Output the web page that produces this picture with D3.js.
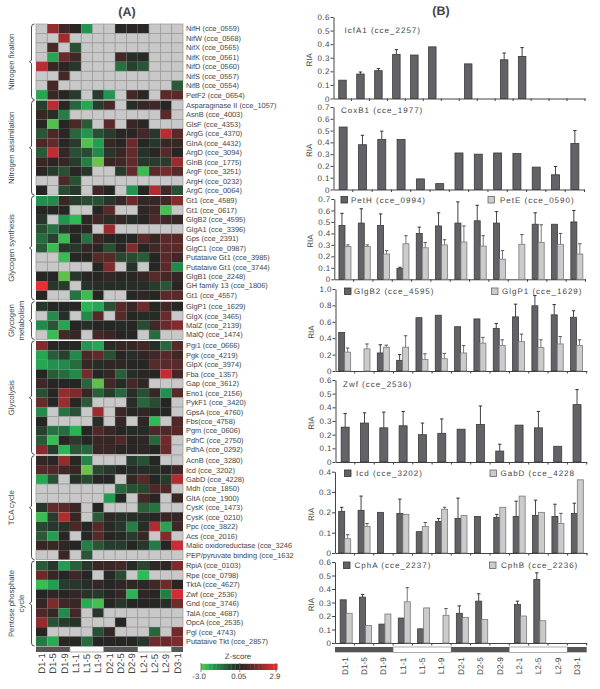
<!DOCTYPE html>
<html><head><meta charset="utf-8">
<script src="https://cdnjs.cloudflare.com/ajax/libs/d3/7.8.5/d3.min.js"></script>
<style>html,body{margin:0;padding:0;background:#fff}svg{display:block;opacity:.999}text{font-family:"Liberation Sans",Arial,sans-serif;fill:#444;text-rendering:geometricPrecision}</style>
</head><body><svg id="c" width="600" height="689"></svg>
<script>
const _ = null;
const categories = ["D1-1","D1-5","D1-9","L1-1","L1-5","L1-9","D2-1","D2-5","D2-9","L2-1","L2-5","L2-9","D3-1"];
const phases = ["D","L","D","L","D"];
const phaseSizes = [3,3,3,3,1];

const groupNames = [["Nitrogen fixation"],["Nitrogen assimilation"],["Glycogen synthesis"],["Glycogen","metabolism"],["Glycolysis"],["TCA cycle"],["Pentose phosphate","cycle"]];
const nitrogenFixation = [
["NifH (cce_0559)",_,1.8,.5,.1,-2,_,_,.1,.1,.1,_,_,_],
["NifW (cce_0568)",_,_,2,_,_,_,_,_,_,_,_,_,_],
["NifX (cce_0565)",_,.7,_,-.8,_,_,_,_,_,_,_,_,_],
["NifK (cce_0561)",_,-2.2,1.2,.5,_,_,_,.6,-.1,-.05,_,_,_],
["NifD (cce_0560)",2.3,.4,.1,-.3,_,_,_,-1.4,-.5,-.9,_,_,_],
["NifS (cce_0557)",_,_,.6,_,_,_,_,_,_,_,_,_,_],
["NifB (cce_0554)",_,.6,_,_,_,_,_,_,_,_,_,_,-1],
["PetF2 (cce_0654)",-2.2,.4,.05,-.4,_,-.4,-2,_,.6,.1,_,1,1]];
const nitrogenAssimilation = [
["Asparaginase II (cce_1057)",-.5,2.3,.1,-1.2,-2.2,-.4,.6,_,-.1,.3,.5,.05,_],
["AsnB (cce_4003)",.4,-.1,-1.6,_,_,_,_,_,_,_,_,1,_],
["GlsF (cce_4353)",.05,-2.8,.05,.7,-1,_,1,_,.4,.1,_,_,_],
["ArgG (cce_4370)",-.9,.7,.1,-1.2,-2,-.8,-.4,.1,.1,.6,-.3,2.3,1],
["GlnA (cce_4432)",.7,1.1,.1,-.4,-2.8,-2.1,.4,.05,1.2,.05,-.3,.4,.4],
["ArgD (cce_3094)",-1,2.4,.3,-.8,-.7,-1.8,-.3,.4,1.1,-.2,.1,.9,.05],
["GlnB (cce_1775)",.4,.1,.3,-.4,-1.6,-3,.4,.5,1.1,-.3,-.4,-.4,1.9],
["ArgF (cce_3251)",.1,-.4,-.8,.1,-.3,_,_,-.4,1.1,-2.6,1,1.4,.9],
["ArgH (cce_0232)",_,_,.7,-.8,_,_,_,_,_,_,_,_,_],
["ArgC (cce_0064)",.05,_,-.7,-.3,_,.5,.05,_,-2,.05,2.2,.5,-.8]];
const glycogenSynthesis = [
["Gt1 (cce_4589)",-1.9,-1.8,.4,-.4,-.7,-.8,-.3,.3,1.2,.3,.3,.6,1.6],
["Gt1 (cce_0617)",.05,.05,.05,_,_,.05,1,_,_,.2,.5,-2.7,_],
["GlgB2 (cce_4595)",-.3,_,-2,-2.5,.2,.5,-.1,.3,-.1,.1,.8,.5,.3],
["GlgA1 (cce_3396)",-.8,-1.4,-.3,.05,.1,_,1.9,_,_,_,_,_,_],
["Gps (cce_2391)",-1.3,-.5,-2.6,.05,-1.4,.4,.05,.05,.05,1,.4,1,1],
["GlgC1 (cce_0987)",-1,-2.6,-.3,-.3,.3,.1,-.8,.1,1.5,.05,.6,1,1],
["Putataive Gt1 (cce_3985)",_,_,-2.6,.05,.05,.9,.9,-.6,-.7,-1,.05,1,.5],
["Putataive Gt1 (cce_3744)",_,_,_,_,_,.05,1.5,_,-.2,_,.05,1,-1.8],
["GlgB1 (cce_2248)",.05,.05,-2.9,-.3,.05,.05,.3,.1,.1,.3,.9,.6,.3],
["GH family 13 (cce_1806)",2.9,-.3,-.4,_,-.2,-.1,-.1,-.1,-.1,-.1,-.4,-.9,.1],
["Gt1 (cce_4557)",.05,_,_,-1.4,-2.6,.05,_,_,.05,.2,.05,1,1]];
const glycogenMetabolism = [
["GlgP1 (cce_1629)",-.3,.05,.05,.05,-2.4,-2.2,-.8,.9,.4,1.3,.05,.5,.1],
["GlgX (cce_3465)",_,-1.8,-.1,_,-1.8,.9,_,.9,.05,-.05,-.05,1.2,_],
["MalZ (cce_2139)",-1.8,-.9,-2.2,.05,-.1,.05,.05,-.05,.05,-.7,.5,1.2,1.6],
["MalQ (cce_1474)",_,-2.6,.6,.3,_,.6,.4,.05,.05,_,-1.3,_,_]];
const glycolysis = [
["Pgi1 (cce_0666)",1.6,.05,.05,.05,-2,-2.2,-.05,.3,.3,.5,-.1,-1.2,.9],
["Pgk (cce_4219)",-2.2,-1,-.5,-1.8,.7,1.1,-.8,.05,-.1,.2,.5,.9,.5],
["GlpX (cce_3974)",-2.2,-1.9,-1.8,-1.3,.3,-.1,.2,.2,.05,.05,.9,1,1],
["Fba (cce_1357)",.05,-1,-1.3,-1.8,1.4,.05,.3,-1.1,-.1,.1,.05,2.4,.6],
["Gap (cce_3612)",.5,.05,.05,.05,-1.2,-2.9,.6,-.05,.6,.2,_,_,_],
["Eno1 (cce_2156)",-.8,.05,1.8,1.5,.3,-1.1,-.4,-1.2,-.1,-.8,.3,-1.9,.9],
["PykF1 (cce_3420)",1.2,.05,1.9,.1,-1,_,_,_,-.1,-1.2,-.7,.05,_],
["GpsA (cce_4760)",-1.8,_,-1.4,-.8,_,1.9,_,.4,.05,.2,.05,.05,_],
["Fbs(cce_4758)",.05,_,_,_,_,-.1,_,.3,_,.2,-2.5,_,.8],
["Pgm (cce_0606)",-.5,-1.4,-1.3,-2.4,.05,.8,.4,.05,-.05,-.05,.7,.8,.9],
["PdhC (cce_2750)",-1,-2.6,.05,-.4,.05,.4,.4,.8,.1,.2,-1.2,1.3,_],
["PdhA (cce_0292)",1.6,-.4,-2.4,-.9,-1.2,.4,.4,.1,.1,.2,.05,1.2,_]];
const tcaCycle = [
["AcnB (cce_3280)",.3,.1,1.8,.1,-1.7,_,_,_,-.4,-.8,.05,_,_],
["Icd (cce_3202)",.9,.8,.5,.3,-3,-.6,-.3,.05,-.05,-.1,-.1,.05,.5],
["GabD (cce_4228)",-2.2,-.8,_,-.2,-.7,.05,.05,_,.3,.9,.05,-.4,2.2],
["Mdh (cce_1850)",_,_,_,_,_,_,_,-1.2,-.8,-.6,.8,.8,_],
["GltA (cce_1900)",_,_,_,_,_,_,-2.1,.05,_,.6,.05,_,.4],
["CysK (cce_1473)",-.3,1.1,1,.4,_,.05,_,_,_,-1.1,-1.4,_,_],
["CysK (cce_0210)",-2.6,-.4,2.2,.4,_,-1,.2,-.2,-.1,-.1,.05,.4,.3],
["Ppc (cce_3822)",-.6,-.3,-.2,.7,.05,.9,-.05,-.3,-1.6,-.1,2.2,-2.2,.5],
["Acs (cce_2016)",-1,-2.1,.05,_,.05,.9,.05,-.05,-.4,.4,_,1.6,_],
["Malic oxidoreductase (cce_3246",.4,.4,.2,.05,-1.6,-.9,-.4,-.4,.05,-.3,-1.5,.05,2.5],
["PEP/pyruvate binding (cce_1632",_,_,.4,_,-.9,_,_,_,_,_,_,_,_]];
const pentosePhosphate = [
["RpiA (cce_0103)",-1,-.3,-2.1,-1.1,-.3,.4,.4,.6,-.05,-.6,.2,.2,1.5],
["Rpe (cce_0798)",1.2,.3,.05,.5,.05,_,-.05,-.7,_,-2.5,_,_,_],
["TktA (cce_4627)",-2.6,-2.1,-.4,-.3,-.1,.3,.05,.2,.2,.2,.5,1.3,.1],
["Zwf (cce_2536)",.05,.2,.05,.3,-.2,-.3,.05,.3,-2.4,.2,.05,-1.6,2.6],
["Gnd (cce_3746)",.3,1.5,.5,.4,-2.3,-2.7,.05,-.3,.05,.05,.05,-.1,1.3],
["TalA (cce_4687)",.8,.3,-1.8,.6,_,-.3,_,_,_,_,_,_,_],
["OpcA (cce_2535)",1.8,-.8,-.4,-.2,_,_,_,.05,_,_,_,_,_],
["Pgl (cce_4743)",.05,_,_,_,_,-.8,.3,_,_,_,-1.2,_,1.3],
["Putataive Tkt (cce_2857)",-1.5,-2.3,.1,.1,-1.3,.05,.05,.05,.05,-.3,1.3,1.2,1.5]];
const heatGroups = [nitrogenFixation,nitrogenAssimilation,glycogenSynthesis,glycogenMetabolism,glycolysis,tcaCycle,pentosePhosphate];

const legendTicks = [-3,.05,2.9];
const legendLabels = ["-3.0","0.05","2.9"];

const icfA1 = [.135,.18,.205,.325,.32,.38,_,.255,_,.285,.31,_,_,_];
const icfA1Top = [_,.195,.22,.36,_,_,_,_,_,.335,.375,_,_,_];
const coxB1 = [.53,.38,.425,.425,.09,.05,.31,.30,.31,.305,.19,.125,.39];
const coxB1Top = [_,.46,.495,_,_,_,_,_,_,_,_,.195,.5];
const petH = [.47,.49,.47,.095,.40,.465,.49,.51,.49,_,.48,.48,.50];
const petHTop = [.575,.615,.57,.105,.455,.58,.675,.645,.59,_,.58,_,.60];
const petE = [.285,.285,.22,.31,.275,.30,.325,.29,.175,.305,.32,.305,.22];
const petETop = [.30,.30,.25,.38,.32,.345,.465,.38,.25,.39,.475,.40,.31];
const glgB2 = [.47,_,.22,.13,.65,.68,.54,.635,.52,.66,.795,.685,.655];
const glgB2Top = [_,_,.32,.2,_,_,_,_,.58,.815,.92,.81,.735];
const glgP1 = [.23,.27,.29,.29,.14,.15,.22,.34,.31,.36,.285,.33,.31];
const glgP1Top = [.28,.33,.315,.43,.21,.215,.31,.41,.38,.45,.38,.42,.38];
const zwf = [.255,.285,.25,.265,.2,.21,.24,.275,.08,.27,.25,.115,.42];
const zwfTop = [.355,.36,.365,.37,.285,.315,_,.41,.13,_,.37,_,.53];
const icd = [.205,.21,.20,.195,.105,.155,.17,.18,.175,.18,.185,.18,.195];
const icdTop = [.225,.28,_,.265,_,.17,.27,_,.19,.255,.26,.24,.245];
const gabD = [.07,.13,_,.19,.13,.215,.185,_,.225,.28,.2,.145,.36];
const gabDTop = [.09,.145,_,_,.15,.225,_,_,_,_,_,.195,_];
const cphA = [.32,.34,.14,.185,.105,_,.22,.31,_,.285,.47,_,_];
const cphATop = [_,.36,_,_,_,_,.275,.365,_,.31,.52,_,_];
const cphB = [.22,.13,.215,.305,.26,.205,.19,.175,_,.20,.165,_,_];
const cphBTop = [_,_,_,.41,_,.255,_,_,_,_,_,_,_];

const svg = d3.select("#c");
svg.append("text").attr("x",127).attr("y",15.7).attr("text-anchor","middle").attr("font-size",12.5).attr("font-weight","bold").text("(A)");
svg.append("text").attr("x",441).attr("y",15.2).attr("text-anchor","middle").attr("font-size",12.5).attr("font-weight","bold").text("(B)");

/* ---------- heat map ---------- */
const zColor = d3.scaleLinear().domain([-3,-2.5,-2,-1,.05,1,2,2.9]).range(["#6cc24a","#2dbb55","#219650","#2a5a38","#262624","#5a2a2a","#a02c2f","#ee2b36"]);
const xHeat = d3.scaleBand().domain(categories).range([36,183]);
const groupTops = [24,100.5,196,301.7,341,455.7,561];
const rowH = 9.45;
heatGroups.forEach((rows,g)=>{
  const y0 = groupTops[g];
  const yB = d3.scaleBand().domain(rows.map(r=>r[0])).range([y0,y0+rowH*rows.length]);
  const G = svg.append("g");
  rows.forEach(r=>{
    const label=r[0], vals=r.slice(1);
    G.selectAll(null).data(vals).enter().append("rect")
      .attr("x",(d,i)=>xHeat(categories[i])).attr("y",yB(label))
      .attr("width",xHeat.bandwidth()).attr("height",yB.bandwidth())
      .attr("fill",d=>d===null?"#c8c8c8":zColor(d))
      .attr("stroke",d=>d===null?"#979797":"none").attr("stroke-width",.7);
    G.append("text").attr("x",186).attr("y",yB(label)+yB.bandwidth()/2+2.7).attr("font-size",7.4).text(label);
  });
  const top=y0, bot=y0+rowH*rows.length, mid=(top+bot)/2, xb=31.5;
  G.append("path").attr("fill","none").attr("stroke","#222").attr("stroke-width",.8)
   .attr("d",`M${xb+3},${top} Q${xb},${top} ${xb},${top+3} L${xb},${mid-1.5} L${xb-2},${mid} L${xb},${mid+1.5} L${xb},${bot-3} Q${xb},${bot} ${xb+3},${bot}`);
  groupNames[g].forEach((n,k)=>{
    G.append("text").attr("transform",`translate(${14+k*9.5},${mid}) rotate(-90)`).attr("text-anchor","middle").attr("font-size",7.8).text(n);
  });
});
function strip(x,y,h){
  let idx=0;
  phases.forEach((p,i)=>{
    const x0=x(categories[idx]); const x1=x(categories[idx+phaseSizes[i]-1])+x.bandwidth();
    svg.append("rect").attr("x",x0).attr("y",y).attr("width",x1-x0).attr("height",h)
       .attr("fill",p==="D"?"#555":"#fff").attr("stroke",p==="D"?"none":"#777").attr("stroke-width",.6);
    idx+=phaseSizes[i];
  });
}
strip(xHeat,646.5,5.5);
categories.forEach(c=>{
  svg.append("text").attr("transform",`translate(${xHeat(c)+xHeat.bandwidth()/2+3.3},${663.5}) rotate(-90)`)
     .attr("text-anchor","middle").attr("font-size",9.5).text(c);
});
const xLeg = d3.scaleLinear().domain([-3,2.9]).range([201,276]);
const legSteps = d3.range(-3,2.9,0.3);
svg.append("g").selectAll("rect").data(legSteps).enter().append("rect")
  .attr("x",d=>xLeg(d)).attr("y",663.8).attr("width",xLeg(0.3)-xLeg(0)+.3).attr("height",6.2).attr("fill",d=>zColor(d+0.15));
svg.append("text").attr("x",238).attr("y",659).attr("text-anchor","middle").attr("font-size",7.8).text("Z-score");
legendTicks.forEach((t,i)=>{
  svg.append("line").attr("x1",xLeg(t)).attr("x2",xLeg(t)).attr("y1",663).attr("y2",672).attr("stroke","#555").attr("stroke-width",.7);
  svg.append("text").attr("x",xLeg(t)-(i===0?2:1)).attr("y",679).attr("text-anchor","middle").attr("font-size",7.8).text(legendLabels[i]);
});

/* ---------- bar panels ---------- */
const DARK="#626267", LIGHT="#cbcbcb";
function panel(o){
  const slots=o.slots||categories;
  const x=d3.scaleBand().domain(slots).range([o.x0,o.x1]);
  const y=d3.scaleLinear().domain([0,o.max]).range([o.y0,o.yT]);
  const g=svg.append("g");
  const fmt=v=>v===0?"0":d3.format(".1f")(v);
  const ay=g.append("g").attr("transform",`translate(${o.x0},0)`).call(d3.axisLeft(y).tickValues(o.ticks).tickFormat(fmt).tickSize(3).tickSizeOuter(0));
  const ax=g.append("g").attr("transform",`translate(0,${o.y0})`).call(d3.axisBottom(x).tickValues(slots).tickFormat("").tickSize(2.5).tickSizeOuter(0));
  ax.selectAll(".tick").attr("transform",d=>`translate(${x(d)+x.bandwidth()},0)`);
  [ay,ax].forEach(a=>{a.selectAll("path,line").attr("stroke","#444").attr("stroke-width",1);});
  ay.selectAll("text").attr("font-size",8).attr("dx",2.2).style("letter-spacing","0.35px").attr("font-family","Liberation Sans");
  g.append("text").attr("transform",`translate(${o.x0-21.5},${(o.y0+o.yT)/2+2}) rotate(-90)`).attr("text-anchor","middle").attr("font-size",8).text("RIA");
  o.series.forEach((s,si)=>{
    const two=o.series.length>1, w=o.bw;
    const cx=(c)=>x(c)+x.bandwidth()/2+(two?(si===0?-3:3):0)+(o.shift||0);
    const col=si===0?DARK:LIGHT, str=si===0?"#3a3a3a":"#7a7a7a";
    s.v.forEach((v,i)=>{
      if(v===null)return;
      const c=slots[i], cxx=cx(c), t=s.top[i];
      if(t!==null){
        g.append("line").attr("x1",cxx).attr("x2",cxx).attr("y1",y(v)).attr("y2",y(t)).attr("stroke",si===0?"#444":"#777").attr("stroke-width",1);
        g.append("line").attr("x1",cxx-1.7).attr("x2",cxx+1.7).attr("y1",y(t)).attr("y2",y(t)).attr("stroke",si===0?"#333":"#555").attr("stroke-width",1);
      }
      g.append("rect").attr("x",cxx-w/2).attr("y",y(v)).attr("width",w).attr("height",o.y0-y(v)).attr("fill",col).attr("stroke",str).attr("stroke-width",.8);
    });
  });
  (o.labels||[]).forEach(l=>{
    if(l.swatch!==undefined){
      g.append("rect").attr("x",l.swatch).attr("y",l.y-6).attr("width",6.5).attr("height",6.5).attr("fill",l.dark?DARK:LIGHT).attr("stroke",l.dark?"#333":"#666").attr("stroke-width",.8);
    }
    g.append("text").attr("x",l.x).attr("y",l.y).attr("font-size",8).style("letter-spacing","1px").text(l.t);
  });
  return x;
}
const T=(a,b,s)=>d3.range(a,b+s/2,s).map(v=>+v.toFixed(1));
panel({x0:333.5,x1:585,y0:98.5,yT:17,max:.6,ticks:T(0,.6,.1),slots:categories.concat(["x"]),bw:7.5,
  series:[{v:icfA1,top:icfA1Top}],labels:[{x:344.5,y:33,t:"IcfA1 (cce_2257)"}]});
panel({x0:333.5,x1:584.5,y0:189.5,yT:107,max:.7,ticks:T(0,.7,.1),bw:8,
  series:[{v:coxB1,top:coxB1Top}],labels:[{x:341,y:112.5,t:"CoxB1 (cce_1977)"}]});
panel({x0:334.3,x1:585.5,y0:279.3,yT:199,max:.7,ticks:T(0,.7,.1),bw:6,shift:1,
  series:[{v:petH,top:petHTop},{v:petE,top:petETop}],
  labels:[{swatch:341,dark:true,x:351,y:202.5,t:"PetH (cce_0994)"},{swatch:488,dark:false,x:500,y:202.5,t:"PetE (cce_0590)"}]});
panel({x0:335.5,x1:586.7,y0:371,yT:289,max:1,ticks:[0,.2,.4,.6,.8,1],bw:6,shift:-.5,
  series:[{v:glgB2,top:glgB2Top},{v:glgP1,top:glgP1Top}],
  labels:[{swatch:344.5,dark:true,x:354,y:294,t:"GlgB2 (cce_4595)"},{swatch:491.5,dark:false,x:502,y:294,t:"GlgP1 (cce_1629)"}]});
panel({x0:335.5,x1:586.7,y0:462,yT:380,max:.6,ticks:T(0,.6,.1),bw:8,
  series:[{v:zwf,top:zwfTop}],labels:[{x:343,y:387,t:"Zwf (cce_2536)"}]});
panel({x0:335,x1:587,y0:553,yT:471.7,max:.4,ticks:T(0,.4,.1),bw:6,
  series:[{v:icd,top:icdTop},{v:gabD,top:gabDTop}],
  labels:[{swatch:344.5,dark:true,x:356,y:476,t:"Icd (cce_3202)"},{swatch:490,dark:false,x:500.5,y:476,t:"GabD (cce_4228"}]});
const xB=panel({x0:335,x1:586.7,y0:643,yT:562,max:.6,ticks:T(0,.6,.1),bw:6,shift:1.5,
  series:[{v:cphA,top:cphATop},{v:cphB,top:cphBTop}],
  labels:[{swatch:343.5,dark:true,x:354.5,y:568,t:"CphA (cce_2237)"},{swatch:489.5,dark:false,x:501,y:568,t:"CphB (cce_2236)"}]});
strip(xB,647,5.3);
categories.forEach(c=>{
  svg.append("text").attr("transform",`translate(${xB(c)+xB.bandwidth()/2+3},${666}) rotate(-90)`)
     .attr("text-anchor","middle").attr("font-size",8.2).text(c);
});
</script></body></html>
